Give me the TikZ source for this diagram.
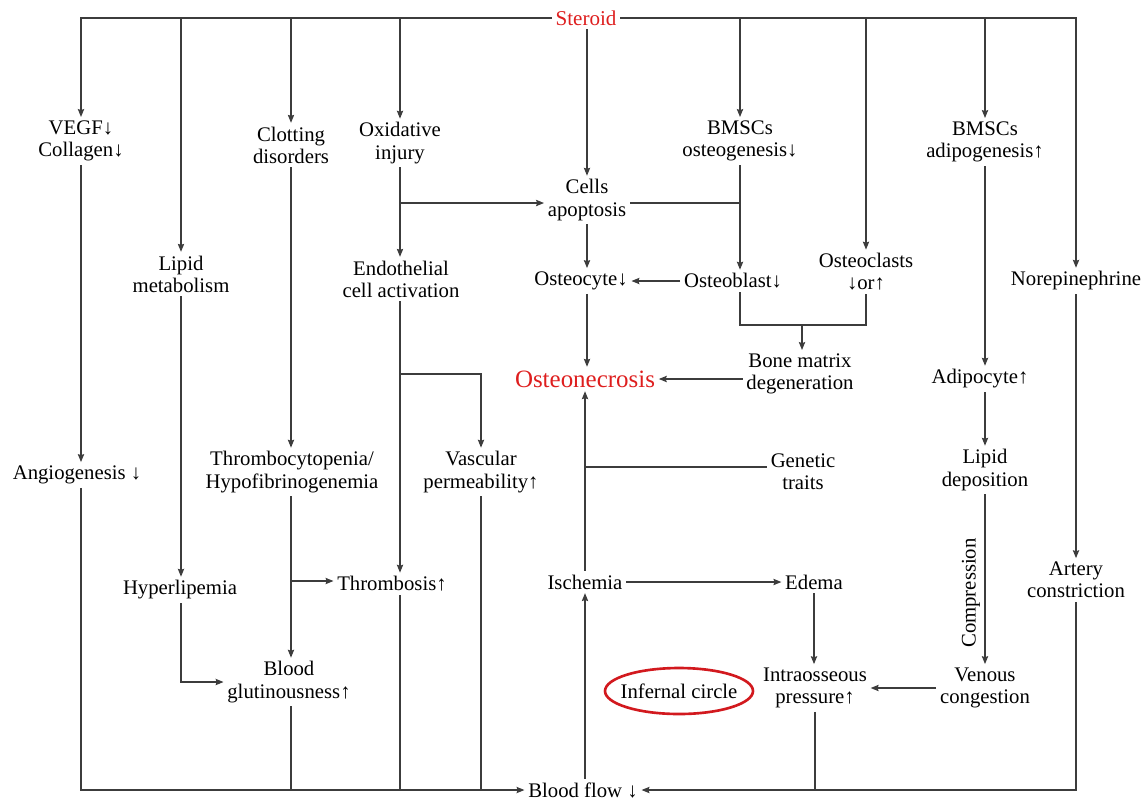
\documentclass[tikz,border=0pt]{standalone}
\usepackage{fontspec}
\setmainfont{Liberation Serif}
\usetikzlibrary{arrows.meta,shapes.geometric}
\definecolor{linec}{RGB}{60,60,60}
\definecolor{stred}{RGB}{222,30,30}
\definecolor{circred}{RGB}{210,25,30}
\begin{document}
\begin{tikzpicture}[x=0.02cm,y=-0.02cm,
  lbl/.style={font=\fontsize{11.8}{12.6}\selectfont, align=center, inner sep=2pt, text=black},
  ln/.style={draw=linec, line width=0.6pt},
  arr/.style={ln, -{Stealth[length=4.5pt,width=3.6pt,inset=0.6pt]}}]
\useasboundingbox (0,0) rectangle (1142,799);

% nodes
\node[lbl,text=stred,font=\fontsize{12}{13}\selectfont] (ster) at (586,18) {Steroid};
\node[lbl] (vegf) at (81,141) {VEGF↓\\Collagen↓};
\node[lbl] (lipm) at (181,274) {Lipid\\metabolism};
\node[lbl] (clot) at (291,145) {Clotting\\disorders};
\node[lbl] (oxi) at (400,143) {Oxidative\\injury};
\node[lbl] (cells) at (587,200) {Cells\\apoptosis};
\node[lbl] (bmsc1) at (740,141) {BMSCs\\osteogenesis↓};
\node[lbl] (oclast) at (866,272) {Osteoclasts\\↓or↑};
\node[lbl] (bmsc2) at (985,142) {BMSCs\\adipogenesis↑};
\node[lbl] (nore) at (1076,281) {Norepinephrine};
\node[lbl] (endo) at (401,279) {Endothelial\\cell activation};
\node[lbl] (ocyte) at (581,281) {Osteocyte↓};
\node[lbl] (oblast) at (733,281) {Osteoblast↓};
\node[lbl] (bone) at (800,374) {Bone matrix\\degeneration};
\node[lbl,text=stred,font=\fontsize{14.2}{16}\selectfont] (necro) at (585,379) {Osteonecrosis};
\node[lbl] (adipo) at (980,379) {Adipocyte↑};
\node[lbl] (angio) at (77,475) {Angiogenesis ↓};
\node[lbl] (thcyt) at (292,472) {Thrombocytopenia/\\Hypofibrinogenemia};
\node[lbl] (vasc) at (481,472) {Vascular\\permeability↑};
\node[lbl] (gen) at (803,472) {Genetic\\traits};
\node[lbl] (lipdep) at (985,470) {Lipid\\deposition};
\node[lbl] (hyper) at (180,590) {Hyperlipemia};
\node[lbl] (thromb) at (392,584) {Thrombosis↑};
\node[lbl] (isch) at (585,582) {Ischemia};
\node[lbl] (edema) at (814,582) {Edema};
\node[lbl] (artery) at (1076,580) {Artery\\constriction};
\node[lbl] (glut) at (289,682) {Blood\\glutinousness↑};
\node[lbl] (inf) at (679,691) {Infernal circle};
\draw[circred, line width=1.5pt] (inf.center) ellipse [x radius=1.48cm, y radius=0.46cm];
\node[lbl] (intra) at (815,688) {Intraosseous\\pressure↑};
\node[lbl] (venous) at (985,688) {Venous\\congestion};
\node[lbl] (bflow) at (583,790) {Blood flow ↓};
\node[lbl,rotate=90] (comp) at (971,593) {Compression};

% branches from Steroid
\draw[arr] (ster.west) -| (vegf.north);
\draw[arr] (ster.west) -| (lipm.north);
\draw[arr] (ster.west) -| (clot.north);
\draw[arr] (ster.west) -| (oxi.north);
\draw[arr] (ster.east) -| (bmsc1.north);
\draw[arr] (ster.east) -| (oclast.north);
\draw[arr] (ster.east) -| (bmsc2.north);
\draw[arr] (ster.east) -| (nore.north);
\draw[arr] (ster.south -| cells.north) -- (cells.north);

% left column
\draw[arr] (vegf.south) -- (vegf.south |- angio.north);
\draw[arr] (vegf.south |- angio.south) |- (bflow.west);
\draw[arr] (lipm.south) -- (lipm.south |- hyper.north);
\draw[arr] (lipm.south |- hyper.south) |- (glut.west);
\draw[arr] (clot.south) -- (clot.south |- thcyt.north);
\draw[arr] (clot.south |- thcyt.south) -- (clot.south |- glut.north);
\coordinate (tb) at (290,581);
\draw[arr] (tb) -- (tb -| thromb.west);
\draw[ln] (clot.south |- glut.south) -- (clot.south |- bflow.west);

% oxidative / endothelial
\coordinate (ob) at (400,203);
\draw[arr] (oxi.south) -- (oxi.south |- endo.north);
\draw[arr] (ob) -- (ob -| cells.west);
\draw[arr] (oxi.south |- endo.south) -- (oxi.south |- thromb.north);
\coordinate (eb) at (400,374);
\draw[arr] (eb) -| (vasc.north);
\draw[ln] (oxi.south |- thromb.south) -- (oxi.south |- bflow.west);
\draw[ln] (vasc.south) -- (vasc.south |- bflow.west);

% centre
\draw[ln] (cells.east |- ob) -- (ob -| bmsc1.south);
\draw[arr] (bmsc1.south) -- (bmsc1.south |- oblast.north);
\draw[arr] (cells.south) -- (cells.south |- ocyte.north);
\draw[arr] (oblast.west) -- (ocyte.east);
\draw[arr] (cells.south |- ocyte.south) -- (cells.south |- necro.north);
\coordinate (br) at (802,325);
\draw[ln] (bmsc1.south |- oblast.south) |- (oclast.south |- br) -- (oclast.south);
\draw[arr] (br) -- (br |- bone.north);
\draw[arr] (bone.west |- necro.east) -- (necro.east);
\draw[arr] (isch.north) -- (isch.north |- necro.south);
\draw[ln] (gen.west |- 0,467) -- (isch.north |- 0,467);
\draw[arr] (isch.east) -- (edema.west);
\draw[arr] (edema.south) -- (edema.south |- intra.north);
\draw[arr] (isch.south |- bflow.north) -- (isch.south);

% right side
\draw[arr] (bmsc2.south) -- (bmsc2.south |- adipo.north);
\draw[arr] (bmsc2.south |- adipo.south) -- (bmsc2.south |- lipdep.north);
\draw[arr] (lipdep.south) -- (venous.north);
\draw[arr] (venous.west) -- (intra.east);
\draw[arr] (nore.south) -- (artery.north);
\draw[arr] (artery.south) |- (bflow.east);
\draw[ln] (intra.south) -- (intra.south |- bflow.east);
\end{tikzpicture}
\end{document}
